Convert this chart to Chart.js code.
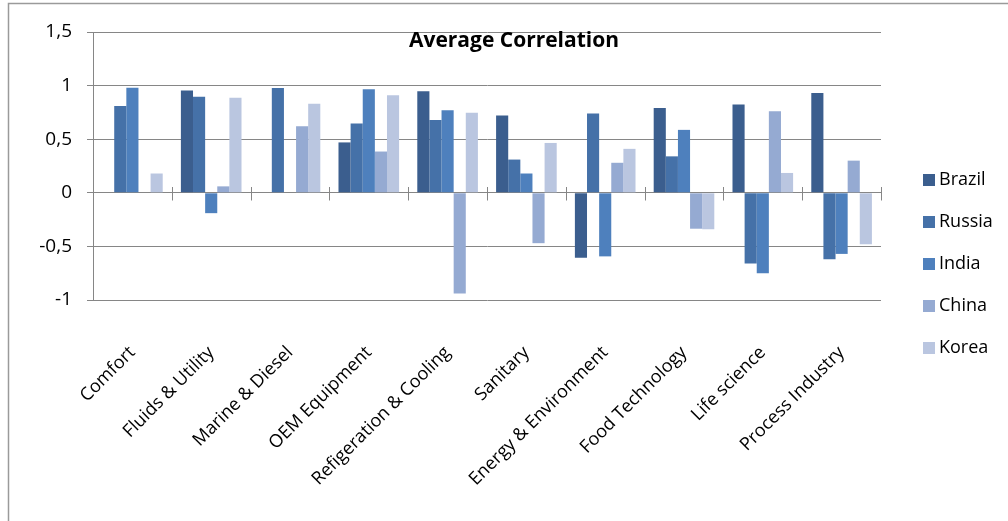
<!DOCTYPE html>
<html>
<head>
<meta charset="utf-8">
<script src="https://cdn.jsdelivr.net/npm/chart.js@4/dist/chart.umd.min.js"></script>
<style>
  html, body { margin: 0; padding: 0; background: #ffffff; }
  #wrap { position: relative; width: 1008px; height: 521px; }
  canvas { display: block; }
</style>
</head>
<body>
<div id="wrap"><canvas id="chart" width="1008" height="521"></canvas></div>
<script>
// Sectors on the category axis
const categories = [
  'Comfort', 'Fluids & Utility', 'Marine & Diesel', 'OEM Equipment',
  'Refigeration & Cooling', 'Sanitary', 'Energy & Environment',
  'Food Technology', 'Life science', 'Process Industry'
];

// Average correlation per country, one value per sector (null = no bar)
const brazil = [null, 0.955, null, 0.47, 0.948, 0.72, -0.605, 0.79, 0.824, 0.93];
const russia = [0.81, 0.895, 0.977, 0.647, 0.68, 0.31, 0.74, 0.34, -0.66, -0.62];
const india  = [0.98, -0.19, null, 0.967, 0.77, 0.18, -0.593, 0.587, -0.75, -0.57];
const china  = [null, 0.06, 0.62, 0.385, -0.94, -0.47, 0.28, -0.335, 0.76, 0.30];
const korea  = [0.18, 0.886, 0.83, 0.91, 0.746, 0.465, 0.41, -0.34, 0.185, -0.48];

const seriesNames = ['Brazil', 'Russia', 'India', 'China', 'Korea'];
const seriesValues = [brazil, russia, india, china, korea];
const seriesColors = ['#3B5E8E', '#4571A8', '#4E80BD', '#95AAD2', '#BAC6E0'];

// Value axis ticks
const yTicks = [-1, -0.5, 0, 0.5, 1, 1.5];

const chartTitle = 'Average Correlation';
const FONT = '"Open Sans", "Noto Sans", sans-serif';
const GRID = '#868686';

// Outer frame of the chart object
const framePlugin = {
  id: 'frame',
  beforeDraw(chart) {
    const ctx = chart.ctx;
    ctx.save();
    ctx.strokeStyle = '#9a9a9a';
    ctx.lineWidth = 1.5;
    ctx.beginPath();
    ctx.moveTo(8.5, chart.height);
    ctx.lineTo(8.5, 3.5);
    ctx.lineTo(chart.width, 3.5);
    ctx.stroke();
    ctx.restore();
  }
};

// Category boundary ticks crossing the zero line, the title and the legend
const overlayPlugin = {
  id: 'overlay',
  afterDraw(chart) {
    const ctx = chart.ctx;
    const xs = chart.scales.x;
    const ys = chart.scales.y;
    const y0 = Math.round(ys.getPixelForValue(0)) + 0.5;
    ctx.save();

    // boundary ticks on the zero axis
    ctx.strokeStyle = GRID;
    ctx.lineWidth = 1;
    const n = categories.length;
    const half = (xs.getPixelForValue(1) - xs.getPixelForValue(0)) / 2;
    for (let i = 0; i < n; i++) {
      const xb = Math.round(xs.getPixelForValue(i) + half) + 0.5;
      ctx.beginPath();
      ctx.moveTo(xb, y0 - 6.5);
      ctx.lineTo(xb, y0 + 7);
      ctx.stroke();
    }

    // title
    ctx.fillStyle = '#000';
    ctx.font = 'bold 21px ' + FONT;
    ctx.textAlign = 'center';
    ctx.textBaseline = 'alphabetic';
    ctx.fillText(chartTitle, 514, 47);

    // legend
    ctx.font = '18px ' + FONT;
    ctx.textAlign = 'left';
    ctx.textBaseline = 'middle';
    const step = 42;
    const cy = 263.5;
    seriesNames.forEach((name, i) => {
      const y = cy + (i - 2) * step;
      ctx.fillStyle = seriesColors[i];
      ctx.fillRect(923, Math.round(y - 6), 12, 12);
      ctx.fillStyle = '#000';
      ctx.fillText(name, 939, y);
    });
    ctx.restore();
  }
};

new Chart(document.getElementById('chart'), {
  type: 'bar',
  data: {
    labels: categories,
    datasets: seriesNames.map((name, i) => ({
      label: name,
      data: seriesValues[i],
      backgroundColor: seriesColors[i],
      borderWidth: 0,
      categoryPercentage: 5 / 6.5,
      barPercentage: 1
    }))
  },
  options: {
    responsive: false,
    animation: false,
    events: [],
    layout: { padding: { left: 0, right: 127, top: 32, bottom: 0 } },
    plugins: {
      legend: { display: false },
      title: { display: false },
      tooltip: { enabled: false }
    },
    scales: {
      x: {
        grid: { display: false, drawTicks: false },
        border: { display: false },
        ticks: {
          autoSkip: false,
          minRotation: 45,
          maxRotation: 45,
          padding: 42,
          color: '#000',
          font: { family: FONT, size: 18 }
        },
        afterFit(scale) { scale.height = 221; }
      },
      y: {
        min: yTicks[0],
        max: yTicks[yTicks.length - 1],
        afterBuildTicks(scale) { scale.ticks = yTicks.map(v => ({ value: v })); },
        ticks: {
          padding: 15,
          color: '#000',
          font: { family: FONT, size: 19 },
          callback: v => String(v).replace('.', ',')
        },
        grid: { color: GRID, lineWidth: 1, tickLength: 6 },
        border: { color: GRID, width: 1 },
        afterFit(scale) { scale.width = 93; }
      }
    }
  },
  plugins: [framePlugin, overlayPlugin]
});
</script>
</body>
</html>
